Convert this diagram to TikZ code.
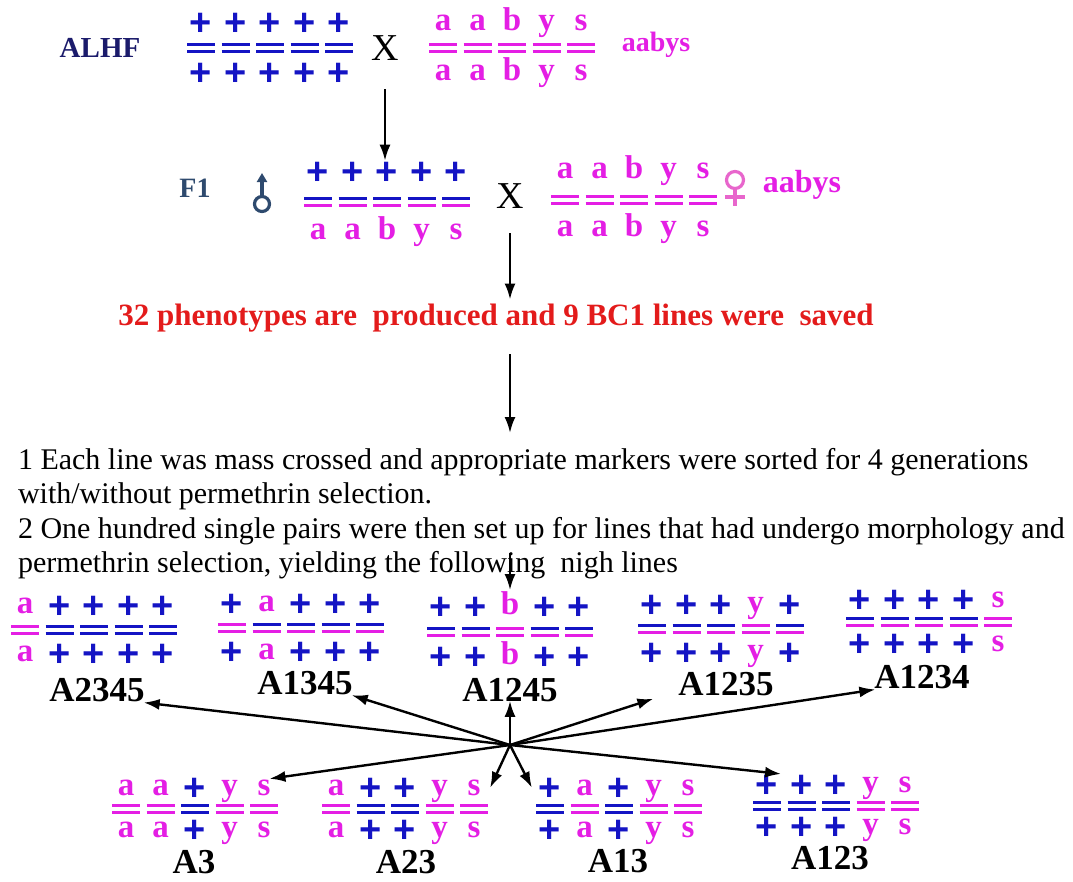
\documentclass[tikz,border=0pt]{standalone}
\usepackage{fontspec}
\setmainfont{Liberation Serif}
\setsansfont{Liberation Sans}
\usetikzlibrary{arrows.meta, positioning, calc}
\definecolor{cblue}{HTML}{1414C4}
\definecolor{cmag}{HTML}{E41EE4}
\definecolor{cred}{HTML}{E31B1B}
\definecolor{cnavy}{HTML}{1B1B6B}
\definecolor{cslate}{HTML}{2E4A6E}
\definecolor{cpink}{HTML}{E866CC}
\tikzset{
  every picture/.style={line width=2pt},
  allele/.style={anchor=base, inner sep=0pt, font=\bfseries\fontsize{33}{33}\selectfont},
  bar/.style={line width=2.6pt},
  arrow/.style={-{Latex[length=16pt, width=11pt]}, draw=black, line width=2.4pt},
  lab/.style={font=\bfseries\fontsize{35}{35}\selectfont, inner sep=0pt},
  cross/.style={font=\fontsize{38}{38}\selectfont, inner sep=2pt},
  sym/.style={draw=#1, line width=3.2pt},
  notes/.style={font=\fontsize{30}{34.5}\selectfont, align=left, inner sep=0pt},
}
% '+' in blue sans, mutant letters in magenta
\newcommand{\allele}[1]{\if+#1{\color{cblue}\sffamily\bfseries\fontsize{38}{38}\selectfont\raisebox{-5pt}{+}}\else{\color{cmag}#1}\fi}
% name, first column x, bar centre y, spread, top/bottom/top line/bottom line
\newcommand{\genotype}[5]{%
  \foreach \alU/\alD/\lnU/\lnD [count=\i] in {#5} {
    \node[allele] (#1t\i) at ({#2+34.5*(\i-1)}, {#3-#4+7}) {\allele{\alU}};
    \node[allele] (#1b\i) at ({#2+34.5*(\i-1)}, {#3+#4+7}) {\allele{\alD}};
    \draw[bar, draw=\lnU] ({#2+34.5*(\i-1)-14}, {#3-3.5}) -- ++(28,0);
    \draw[bar, draw=\lnD] ({#2+34.5*(\i-1)-14}, {#3+3.5}) -- ++(28,0);
  }}

\begin{document}
\begin{tikzpicture}[x=1pt, y=-1pt]
  \useasboundingbox (0,0) rectangle (1073,881);
  % parents
  \node[font=\bfseries\fontsize{29}{29}\selectfont, text=cnavy] (alhf) at (100,48) {ALHF};
  \genotype{alL}{201}{48}{25}{+/+/cblue/cblue, +/+/cblue/cblue, +/+/cblue/cblue, +/+/cblue/cblue, +/+/cblue/cblue}
  \node[cross] (xa) at (385,48) {X};
  \genotype{alR}{443}{48}{25}{a/a/cmag/cmag, a/a/cmag/cmag, b/b/cmag/cmag, y/y/cmag/cmag, s/s/cmag/cmag}
  \node[font=\bfseries\fontsize{28}{28}\selectfont, text=cmag] (ab1) at (656,45) {aabys};
  % F1 backcross
  \node[font=\bfseries\fontsize{28}{28}\selectfont, text=cslate] (f1) at (195,188) {F1};
  \draw[sym=cslate] (262,204) circle (7.5pt);
  \draw[sym=cslate, -{Triangle[length=9pt, width=10pt]}] (262,196) -- (262,173);
  \genotype{f1L}{318}{202}{30}{+/a/cblue/cmag, +/a/cblue/cmag, +/b/cblue/cmag, +/y/cblue/cmag, +/s/cblue/cmag}
  \node[cross] (xb) at (510,196) {X};
  \genotype{f1R}{565}{200}{29}{a/a/cmag/cmag, a/a/cmag/cmag, b/b/cmag/cmag, y/y/cmag/cmag, s/s/cmag/cmag}
  \draw[sym=cpink] (735,180) circle (8.5pt);
  \draw[sym=cpink] (735,188.5) -- (735,206) (725,197) -- (745,197);
  \node[font=\bfseries\fontsize{32}{32}\selectfont, text=cmag] (ab2) at (802,185) {aabys};
  \draw[arrow] ([yshift=-26pt]xa.south) -- (xa.south |- f1Lt3.north);
  % BC1
  \node[font=\bfseries\fontsize{31}{31}\selectfont, text=cred] (bc) at (496,318) {32 phenotypes are~ produced and 9 BC1 lines were~ saved};
  \draw[arrow] ([yshift=-22pt]xb.south) -- (xb.south |- bc.north);
  \node[notes, anchor=north west] (notes) at (17,447) {1 Each line was mass crossed and appropriate markers were sorted for 4 generations\\
    with/without permethrin selection.\\
    2 One hundred single pairs were then set up for lines that had undergo morphology and\\
    permethrin selection, yielding the following~ nigh lines};
  \draw[arrow, shorten <=18pt, shorten >=14pt] (bc.south -| xb) -- (xb |- notes.north);
  % near-isogenic lines
  \genotype{A2345}{25}{630}{24}{a/a/cmag/cmag, +/+/cblue/cblue, +/+/cblue/cblue, +/+/cblue/cblue, +/+/cblue/cblue}
  \genotype{A1345}{232}{628}{24}{+/+/cmag/cmag, a/a/cblue/cmag, +/+/cblue/cmag, +/+/cblue/cmag, +/+/cblue/cmag}
  \genotype{A1245}{441}{632}{25}{+/+/cblue/cmag, +/+/cblue/cmag, b/b/cmag/cmag, +/+/cblue/cmag, +/+/cblue/cmag}
  \genotype{A1235}{652}{629}{24}{+/+/cblue/cmag, +/+/cblue/cmag, +/+/cblue/cmag, y/y/cmag/cmag, +/+/cblue/cmag}
  \genotype{A1234}{860}{622}{22}{+/+/cblue/cmag, +/+/cblue/cmag, +/+/cblue/cmag, +/+/cblue/cmag, s/s/cmag/cmag}
  \node[lab] (l2345) at (97,690) {A2345};
  \node[lab] (l1345) at (305,683) {A1345};
  \node[lab] (l1245) at (510,690) {A1245};
  \node[lab] (l1235) at (726,684) {A1235};
  \node[lab] (l1234) at (922,677) {A1234};
  \genotype{A3}{126}{809}{21}{a/a/cmag/cmag, a/a/cmag/cmag, +/+/cblue/cblue, y/y/cmag/cmag, s/s/cmag/cmag}
  \genotype{A23}{336}{809}{21}{a/a/cmag/cmag, +/+/cblue/cblue, +/+/cblue/cblue, y/y/cmag/cmag, s/s/cmag/cmag}
  \genotype{A13}{550}{809}{21}{+/+/cblue/cblue, a/a/cmag/cmag, +/+/cblue/cblue, y/y/cmag/cmag, s/s/cmag/cmag}
  \genotype{A123}{767}{806}{21}{+/+/cblue/cblue, +/+/cblue/cblue, +/+/cblue/cblue, y/y/cmag/cmag, s/s/cmag/cmag}
  \node[lab] (l3) at (194,862) {A3};
  \node[lab] (l23) at (406,862) {A23};
  \node[lab] (l13) at (618,861) {A13};
  \node[lab] (l123) at (830,858) {A123};
  \coordinate (n4) at (510,553);
  \draw[arrow] (n4) -- (A1245t3.north);
  \coordinate (hub) at (510,745);
  \coordinate (tipL) at (491,786);
  \coordinate (tipR) at (531,786);
  \foreach \tg in {l2345.south east, l1345.south east, l1245.south, l1234.south west, A3t5.north east, tipL, tipR, A123t1.north east}
    \draw[arrow, shorten >=-2pt] (hub) -- (\tg);
  \draw[arrow] (hub) -- ([xshift=-24pt, yshift=-2pt]l1235.south west);
\end{tikzpicture}
\end{document}
